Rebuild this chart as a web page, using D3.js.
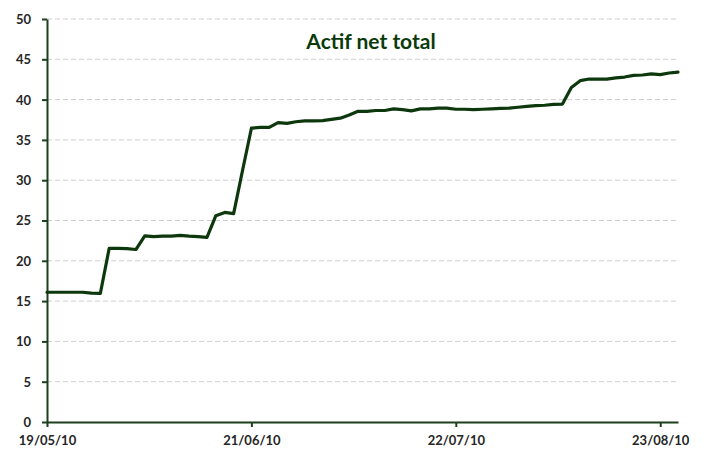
<!DOCTYPE html>
<html>
<head>
<meta charset="utf-8">
<script src="https://cdn.jsdelivr.net/npm/d3@7"></script>
<style>
  body { margin: 0; background: #fff; }
  svg { display: block; }
  .axis text { font-family: Lato, "Open Sans", sans-serif; font-weight: bold; font-size: 13px; fill: #262626; }
  .axis path, .axis line { stroke: #1d3f1d; stroke-width: 2; }
  .grid line { stroke: #cfcfcf; stroke-width: 1; stroke-dasharray: 5,3; }
  .title { font-family: Lato, "Open Sans", sans-serif; font-weight: bold; font-size: 21px; fill: #0b3a0b; }
</style>
</head>
<body>
<script>
// valeurs journalieres (actif net, en millions)
const values = [
  16.1, 16.1, 16.1, 16.1, 16.1, 16.0, 15.95, 21.55, 21.55, 21.5,
  21.4, 23.1, 23.0, 23.05, 23.05, 23.15, 23.05, 23.0, 22.9, 25.6,
  26.0, 25.85, 31.2, 36.45, 36.55, 36.55, 37.15, 37.05, 37.25, 37.35,
  37.35, 37.4, 37.55, 37.7, 38.1, 38.55, 38.55, 38.65, 38.65, 38.85,
  38.75, 38.6, 38.85, 38.85, 38.95, 38.95, 38.8, 38.8, 38.75, 38.8,
  38.85, 38.9, 38.95, 39.05, 39.15, 39.25, 39.3, 39.4, 39.45, 41.5,
  42.35, 42.55, 42.55, 42.55, 42.7, 42.8, 43.0, 43.05, 43.2, 43.1,
  43.3, 43.4
];
const dateLabels = ["19/05/10", "21/06/10", "22/07/10", "23/08/10"];
const labelEvery = 23;
const yTicks = [0, 5, 10, 15, 20, 25, 30, 35, 40, 45, 50];
const title = "Actif net total";

const width = 704, height = 453;
const margin = {top: 19, right: 26, bottom: 31, left: 47};

const svg = d3.select("body").append("svg")
  .attr("width", width)
  .attr("height", height);

const x = d3.scaleLinear()
  .domain([0, values.length - 1])
  .range([margin.left, width - margin.right]);
const y = d3.scaleLinear()
  .domain([0, 50])
  .range([height - margin.bottom, margin.top]);

// lignes de grille pointillees
svg.append("g")
  .attr("class", "grid")
  .selectAll("line")
  .data(yTicks.filter(d => d > 0))
  .enter().append("line")
    .attr("x1", x.range()[0])
    .attr("x2", x.range()[1])
    .attr("y1", d => y(d))
    .attr("y2", d => y(d));

// axe y
svg.append("g")
  .attr("class", "axis axis--y")
  .attr("transform", "translate(" + margin.left + ",0)")
  .call(d3.axisLeft(y).tickValues(yTicks).tickSize(5).tickSizeOuter(0).tickPadding(11))
  .selectAll("text").attr("dy", "0.34em");

// axe x (une etiquette toutes les 23 dates)
const tickIdx = dateLabels.map((d, i) => i * labelEvery);
svg.append("g")
  .attr("class", "axis axis--x")
  .attr("transform", "translate(0," + y(0) + ")")
  .call(d3.axisBottom(x).tickValues(tickIdx).tickSize(5).tickSizeOuter(0)
    .tickFormat((d, i) => dateLabels[i]))
  .selectAll("text").attr("y", 14).attr("dy", "0.71em");

// courbe
const line = d3.line()
  .x((d, i) => x(i))
  .y(d => y(d));

svg.append("path")
  .datum(values)
  .attr("fill", "none")
  .attr("stroke", "#0d380d")
  .attr("stroke-width", 3.2)
  .attr("stroke-linejoin", "round")
  .attr("stroke-linecap", "round")
  .attr("d", line);

svg.append("text")
  .attr("class", "title")
  .attr("x", 371)
  .attr("y", 49)
  .attr("text-anchor", "middle")
  .text(title);
</script>
</body>
</html>
